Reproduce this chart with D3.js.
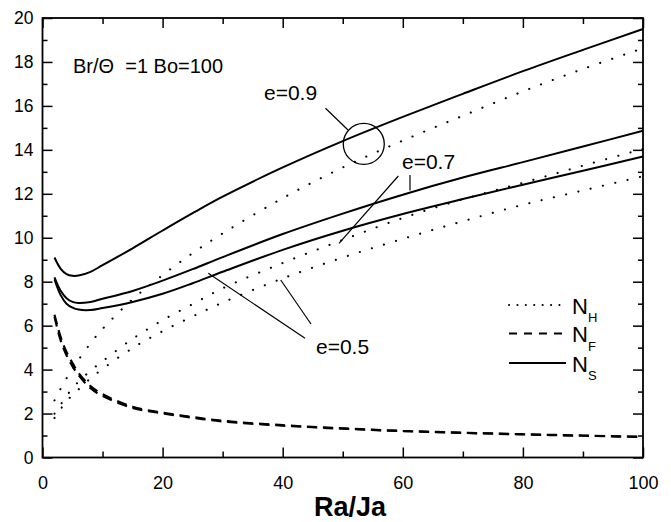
<!DOCTYPE html>
<html>
<head>
<meta charset="utf-8">
<script src="https://cdn.jsdelivr.net/npm/d3@7"></script>
<style>
  html, body { margin: 0; padding: 0; background: #fff; }
  svg { display: block; font-family: "Liberation Sans", Arial, sans-serif; }
</style>
</head>
<body>
<svg id="chart" width="671" height="522"></svg>
<script>
// ---------- data ----------
const xValues = [2, 3, 4, 5, 6, 8, 10, 15, 20, 25, 30, 40, 50, 60, 70, 80, 90, 100];

// Solid: N_S
const NS_e09 = [9.1, 8.6, 8.35, 8.27, 8.28, 8.45, 8.75, 9.52, 10.33, 11.12, 11.87, 13.2, 14.4, 15.5, 16.55, 17.58, 18.55, 19.5];
const NS_e07 = [8.2, 7.6, 7.25, 7.08, 7.03, 7.08, 7.22, 7.58, 8.05, 8.57, 9.12, 10.17, 11.1, 11.96, 12.74, 13.44, 14.15, 14.87];
const NS_e05 = [8.1, 7.4, 7.0, 6.82, 6.73, 6.71, 6.8, 7.08, 7.45, 7.93, 8.45, 9.45, 10.32, 11.08, 11.76, 12.41, 13.05, 13.7];

// Dotted: N_H
const NH_e09 = [2.6, 3.12, 3.6, 4.05, 4.45, 5.2, 5.85, 7.2, 8.3, 9.3, 10.2, 11.8, 13.2, 14.42, 15.55, 16.66, 17.68, 18.62];
const NH_e07 = [2.0, 2.4, 2.8, 3.15, 3.45, 3.95, 4.38, 5.4, 6.25, 6.98, 7.7, 8.85, 9.9, 10.9, 11.75, 12.5, 13.28, 14.04];
const NH_e05 = [1.8, 2.2, 2.55, 2.85, 3.1, 3.6, 4.03, 4.98, 5.75, 6.42, 7.05, 8.15, 9.1, 9.95, 10.75, 11.5, 12.15, 12.8];

// Dashed: N_F
const NF_a = [6.5, 5.5, 4.8, 4.3, 3.85, 3.25, 2.88, 2.31, 2.04, 1.84, 1.67, 1.47, 1.33, 1.21, 1.13, 1.06, 1.0, 0.94];
const NF_b = [6.4, 5.35, 4.65, 4.15, 3.75, 3.15, 2.8, 2.26, 2.01, 1.81, 1.64, 1.45, 1.31, 1.2, 1.12, 1.05, 0.99, 0.93];

const xMajor = [0, 20, 40, 60, 80, 100];
const xMinor = [10, 30, 50, 70, 90];
const yMajor = [0, 2, 4, 6, 8, 10, 12, 14, 16, 18, 20];
const yMinor = [1, 3, 5, 7, 9, 11, 13, 15, 17, 19];

const legendLabels = ["H", "F", "S"];

// ---------- layout ----------
const svg = d3.select("#chart");
const L = 42.5, R = 643, T = 18, B = 457.5;
const x = d3.scaleLinear().domain([0, 100]).range([L, R]);
const y = d3.scaleLinear().domain([0, 20]).range([B, T]);

const FONT = '"Liberation Sans", Arial, sans-serif';

// ---------- axes ----------
function styleAxis(g) {
  g.select(".domain").remove();
  g.selectAll("line").attr("stroke", "#000").attr("stroke-width", 1.5);
  g.selectAll("text").attr("fill", "#000").attr("font-family", FONT);
}

svg.append("g").attr("transform", `translate(0,${B})`)
  .call(d3.axisBottom(x).tickValues(xMajor).tickSize(-10).tickSizeOuter(0).tickPadding(19).tickFormat(d3.format("d")))
  .call(styleAxis).call(g => g.selectAll("text").attr("font-size", 18));
svg.append("g").attr("transform", `translate(0,${B})`)
  .call(d3.axisBottom(x).tickValues(xMinor).tickSize(-6).tickSizeOuter(0).tickFormat(""))
  .call(styleAxis);
svg.append("g").attr("transform", `translate(0,${T})`)
  .call(d3.axisTop(x).tickValues(xMajor).tickSize(-10).tickSizeOuter(0).tickFormat(""))
  .call(styleAxis);
svg.append("g").attr("transform", `translate(0,${T})`)
  .call(d3.axisTop(x).tickValues(xMinor).tickSize(-6).tickSizeOuter(0).tickFormat(""))
  .call(styleAxis);

svg.append("g").attr("transform", `translate(${L},0)`)
  .call(d3.axisLeft(y).tickValues(yMajor).tickSize(-10).tickSizeOuter(0).tickPadding(9).tickFormat(d3.format("d")))
  .call(styleAxis).call(g => g.selectAll("text").attr("font-size", 17.5));
svg.append("g").attr("transform", `translate(${L},0)`)
  .call(d3.axisLeft(y).tickValues(yMinor).tickSize(-5).tickSizeOuter(0).tickFormat(""))
  .call(styleAxis);
svg.append("g").attr("transform", `translate(${R},0)`)
  .call(d3.axisRight(y).tickValues(yMajor).tickSize(-10).tickSizeOuter(0).tickFormat(""))
  .call(styleAxis);
svg.append("g").attr("transform", `translate(${R},0)`)
  .call(d3.axisRight(y).tickValues(yMinor).tickSize(-5).tickSizeOuter(0).tickFormat(""))
  .call(styleAxis);

svg.append("rect").attr("x", L).attr("y", T).attr("width", R - L).attr("height", B - T)
  .attr("fill", "none").attr("stroke", "#000").attr("stroke-width", 1.8);

// axis title
svg.append("text").attr("x", 350).attr("y", 516).attr("text-anchor", "middle")
  .attr("font-family", FONT).attr("font-weight", "bold").attr("font-size", 28)
  .attr("textLength", 72).attr("lengthAdjust", "spacingAndGlyphs")
  .text("Ra/Ja");

// ---------- curves ----------
const line = d3.line().x(d => x(d[0])).y(d => y(d[1])).curve(d3.curveCatmullRom.alpha(0.5));
const pts = arr => xValues.map((v, i) => [v, arr[i]]);

const plot = svg.append("g");
function draw(arr, style) {
  plot.append("path").datum(pts(arr)).attr("d", line)
    .attr("fill", "none").attr("stroke", "#000")
    .attr("stroke-width", style.w).attr("stroke-dasharray", style.dash || null)
    .attr("stroke-linecap", style.cap || "butt");
}
const solid = { w: 2 };
const dotted = { w: 2.1, dash: "0.1,12.5", cap: "round" };
const dashed = { w: 2.2, dash: "10,6" };

[NS_e09, NS_e07, NS_e05].forEach(a => draw(a, solid));
[NH_e09, NH_e07, NH_e05].forEach(a => draw(a, dotted));
[NF_a, NF_b].forEach(a => draw(a, dashed));

// ---------- annotations ----------
const ann = svg.append("g").attr("font-family", FONT).attr("fill", "#000");
ann.append("text").attr("x", 73).attr("y", 72.5).attr("font-size", 20)
  .text("Br/\u0398\u00a0 =1 Bo=100");

// e=0.9
ann.append("text").attr("x", 264).attr("y", 100).attr("font-size", 21).text("e=0.9");
svg.append("circle").attr("cx", x(53.5)).attr("cy", y(14.27)).attr("r", 20.5)
  .attr("fill", "none").attr("stroke", "#000").attr("stroke-width", 1.3);
svg.append("line").attr("x1", 325.5).attr("y1", 108.3).attr("x2", 348).attr("y2", 130)
  .attr("stroke", "#000").attr("stroke-width", 1.2);

// e=0.7
ann.append("text").attr("x", 402).attr("y", 168.5).attr("font-size", 21).text("e=0.7");
svg.append("line").attr("x1", 410).attr("y1", 175).attr("x2", 410).attr("y2", 190.5)
  .attr("stroke", "#000").attr("stroke-width", 1.2);
svg.append("line").attr("x1", 398.3).attr("y1", 176).attr("x2", 339).attr("y2", 243.3)
  .attr("stroke", "#000").attr("stroke-width", 1.2);

// e=0.5
ann.append("text").attr("x", 316).attr("y", 353.5).attr("font-size", 21).text("e=0.5");
svg.append("line").attr("x1", 208.3).attr("y1", 273.3).attr("x2", 305).attr("y2", 338.3)
  .attr("stroke", "#000").attr("stroke-width", 1.2);
svg.append("line").attr("x1", 280.7).attr("y1", 280).attr("x2", 311).attr("y2", 324)
  .attr("stroke", "#000").attr("stroke-width", 1.2);

// ---------- legend ----------
const legStyles = [
  { dash: "0.1,8.3", cap: "round", w: 2 },
  { dash: "8,7", cap: "butt", w: 2 },
  { dash: null, cap: "butt", w: 2 }
];
const legY = [305, 333.5, 363];
legendLabels.forEach((lab, i) => {
  const s = legStyles[i];
  svg.append("line").attr("x1", 509).attr("x2", 566).attr("y1", legY[i]).attr("y2", legY[i])
    .attr("stroke", "#000").attr("stroke-width", s.w)
    .attr("stroke-dasharray", s.dash).attr("stroke-linecap", s.cap);
  const t = svg.append("text").attr("x", 572).attr("y", legY[i] + 8.5)
    .attr("font-family", FONT).attr("font-size", 22).attr("fill", "#000");
  t.append("tspan").text("N");
  t.append("tspan").attr("font-size", 13).attr("dy", 8.5).text(lab);
});
</script>
</body>
</html>
